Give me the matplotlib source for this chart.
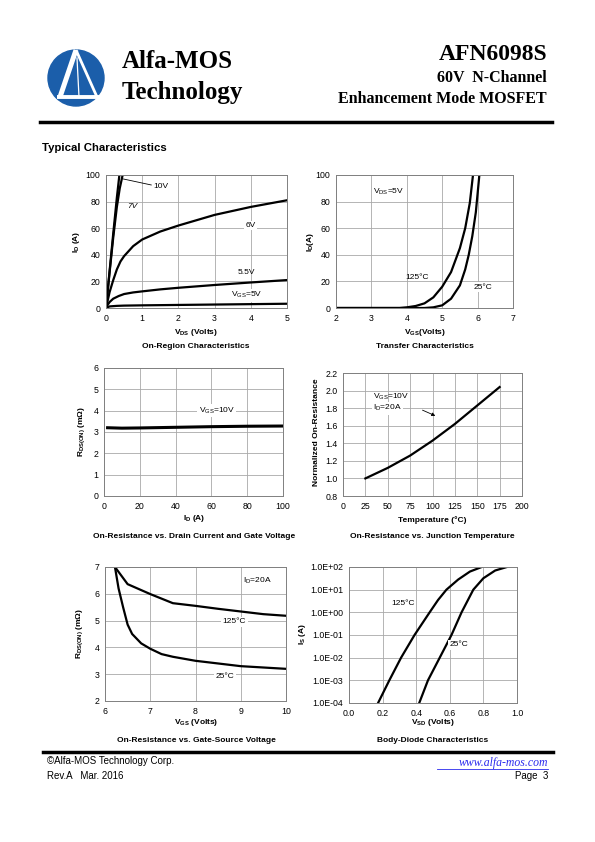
import numpy as np
import matplotlib.pyplot as plt
from matplotlib.patches import Circle
from matplotlib.ticker import FuncFormatter

plt.rcParams['font.family'] = ['Liberation Sans', 'DejaVu Sans']
plt.rcParams['mathtext.fontset'] = 'custom'
plt.rcParams['mathtext.rm'] = 'Liberation Sans'
plt.rcParams['mathtext.it'] = 'Liberation Sans:italic'
plt.rcParams['mathtext.bf'] = 'Liberation Sans:bold'

# ---- data ----
# on-region characteristics (VDS, ID)
vds_10v = [0, 0.1, 0.2, 0.3, 0.37]
id_10v = [0, 28, 56, 83, 100]
vds_7v = [0, 0.1, 0.2, 0.3, 0.38, 0.46]
id_7v = [0, 27, 53, 76, 90, 100]
vds_6v = [0, 0.05, 0.1, 0.2, 0.3, 0.4, 0.5, 0.75, 1, 1.5, 2, 3, 4, 5]
id_6v = [0, 6, 12, 21, 29, 35, 39, 46.5, 51.5, 57.5, 62, 70, 76, 81]
vds_55v = [0, 0.05, 0.1, 0.2, 0.35, 0.5, 0.75, 1, 1.5, 2, 3, 4, 5]
id_55v = [0, 2.5, 4.5, 7, 9, 10.5, 11.7, 12.5, 14, 15.2, 17.3, 19.2, 21]
vds_5v = [0, 0.1, 0.3, 0.5, 1, 2, 3, 4, 5]
id_5v = [0, 1.2, 1.6, 1.8, 2, 2.3, 2.6, 2.9, 3.2]

# transfer characteristics (VGS, ID)
vgs_125 = [2, 3.8, 4.0, 4.25, 4.5, 4.75, 5.0, 5.25, 5.5, 5.65, 5.78, 5.87]
id_125 = [0, 0, 0.5, 1.5, 3.5, 8, 16, 27, 45, 60, 79, 100]
vgs_25 = [2, 4.5, 4.75, 5.0, 5.25, 5.5, 5.65, 5.75, 5.85, 5.95, 6.05]
id_25 = [0, 0, 0.5, 2, 7, 17, 29, 40, 54, 72, 100]

# on-resistance vs drain current
id_r = [2, 10, 20, 40, 60, 80, 100]
r_id = [3.2, 3.18, 3.19, 3.22, 3.25, 3.27, 3.28]

# normalized on-resistance vs temperature
temp = [25, 50, 75, 100, 125, 150, 175]
r_norm = [1.0, 1.12, 1.26, 1.43, 1.62, 1.83, 2.04]

# on-resistance vs gate-source voltage
vgs_r125 = [6.22, 6.5, 7.0, 7.5, 8.0, 8.5, 9.0, 9.5, 10.0]
r_125 = [7.0, 6.36, 5.99, 5.65, 5.55, 5.44, 5.34, 5.24, 5.18]
vgs_r25 = [6.22, 6.3, 6.4, 6.5, 6.6, 6.8, 7.0, 7.25, 7.5, 8.0, 8.5, 9.0, 9.5, 10.0]
r_25 = [7.0, 6.2, 5.5, 4.85, 4.5, 4.15, 3.95, 3.75, 3.65, 3.5, 3.4, 3.3, 3.25, 3.2]

# body diode (VSD, IS)
vsd_125 = [0.173, 0.24, 0.31, 0.39, 0.48, 0.53, 0.58, 0.65, 0.72, 0.79]
is_125 = [1e-4, 1e-3, 1e-2, 1e-1, 1e0, 3.5e0, 1e1, 2.8e1, 6.3e1, 1e2]
vsd_25 = [0.418, 0.47, 0.54, 0.61, 0.67, 0.74, 0.80, 0.87, 0.94]
is_25 = [1e-4, 1e-3, 1e-2, 1e-1, 1e0, 1e1, 3.2e1, 7e1, 1e2]

W, H = 595, 842
fig = plt.figure(figsize=(W / 100, H / 100), dpi=100)

# page layer in pixel coordinates
pg = fig.add_axes([0, 0, 1, 1])
pg.set_xlim(0, W)
pg.set_ylim(H, 0)
pg.axis('off')

# logo
blue = '#1b5eaa'
pg.add_patch(Circle((76, 78), 28, color=blue))
pg.plot([76, 60], [50, 97], color='white', lw=3.6, solid_capstyle='butt')
pg.plot([76, 97], [50, 97], color='white', lw=2.0, solid_capstyle='butt')
pg.plot([77, 79], [58, 97], color='white', lw=0.9)
pg.plot([57, 99], [97, 97], color='white', lw=2.8, solid_capstyle='butt')

pg.text(122, 62, 'Alfa-MOS', family='Liberation Serif', weight='bold', fontsize=18, va='center')
pg.text(122, 92, 'Technology', family='Liberation Serif', weight='bold', fontsize=18, va='center')
pg.text(547, 55, 'AFN6098S', family='Liberation Serif', weight='bold', fontsize=17, va='center', ha='right')
pg.text(547, 78, '60V  N-Channel', family='Liberation Serif', weight='bold', fontsize=11.5, va='center', ha='right')
pg.text(547, 99, 'Enhancement Mode MOSFET', family='Liberation Serif', weight='bold', fontsize=11.5, va='center', ha='right')
pg.plot([40, 552], [122, 122], color='black', lw=2.5)

pg.text(42, 148, 'Typical Characteristics', weight='bold', fontsize=8.2, va='center')

# footer
pg.plot([43, 553], [752, 752], color='black', lw=2.5)
pg.text(47, 761, '\u00a9Alfa-MOS Technology Corp.', fontsize=7, va='center')
pg.text(47, 776, 'Rev.A   Mar. 2016', fontsize=7, va='center')
pg.text(548, 763, 'www.alfa-mos.com', family='Liberation Serif', style='italic', fontsize=8.5,
        color='#2a2aee', va='center', ha='right')
pg.plot([437, 548], [769, 769], color='#2a2aee', lw=0.6)
pg.text(548, 776, 'Page  3', fontsize=7, va='center', ha='right')

gridc = '#a8a8a8'
tickfs = 6.3
labfs = 6.0
ohm = '\u03a9'
deg = '\u00b0'


def make_ax(x0, x1, y0, y1):
    ax = fig.add_axes([x0 / W, 1 - y1 / H, (x1 - x0) / W, (y1 - y0) / H])
    ax.set_facecolor('white')
    for s in ax.spines.values():
        s.set_color('#808080')
        s.set_linewidth(0.7)
    ax.grid(True, color=gridc, lw=0.6)
    ax.set_axisbelow(True)
    ax.tick_params(length=0, labelsize=tickfs, pad=4)
    return ax


def page_label(x, y, s, rot=0, bold=True):
    pg.text(x, y, s, fontsize=labfs, weight='bold' if bold else 'normal',
            rotation=rot, ha='center', va='center')


box = dict(fc='white', ec='none', pad=1)
lw = 1.6

# 1: on-region characteristics
ax1 = make_ax(106, 287, 175, 308)
for xv, yv in [(vds_10v, id_10v), (vds_7v, id_7v), (vds_6v, id_6v), (vds_55v, id_55v), (vds_5v, id_5v)]:
    ax1.plot(xv, yv, color='black', lw=lw)
ax1.set_xlim(0, 5)
ax1.set_ylim(0, 100)
ax1.set_xticks(range(0, 6))
ax1.set_yticks(range(0, 101, 20))
ax1.plot([0.48, 1.25], [97, 92.5], color='black', lw=0.6)
ax1.text(1.3, 91, '10V', fontsize=6, va='center')
ax1.text(0.57, 76, '7V', fontsize=6, va='center', style='italic')
ax1.text(3.85, 62, '6V', fontsize=6, va='center', bbox=box)
ax1.text(3.65, 27, '5.5V', fontsize=6, va='center')
ax1.text(3.45, 9.5, r'V$_\mathregular{GS}$=5V', fontsize=6, va='center', bbox=box)
page_label(196, 333, r'V$_\mathregular{DS}$ (Volts)')
page_label(196, 346, 'On-Region Characteristics')
page_label(76, 242, r'I$_\mathregular{D}$ (A)', rot=90)

# 2: transfer characteristics
ax2 = make_ax(336, 513, 175, 308)
ax2.plot(vgs_125, id_125, color='black', lw=lw)
ax2.plot(vgs_25, id_25, color='black', lw=lw)
ax2.set_xlim(2, 7)
ax2.set_ylim(0, 100)
ax2.set_xticks(range(2, 8))
ax2.set_yticks(range(0, 101, 20))
ax2.text(3.05, 87.5, r'V$_\mathregular{DS}$=5V', fontsize=6, va='center')
ax2.text(3.95, 23, '125' + deg + 'C', fontsize=6, va='center')
ax2.text(5.9, 15.5, '25' + deg + 'C', fontsize=6, va='center', bbox=box)
page_label(425, 333, r'V$_\mathregular{GS}$(Volts)')
page_label(425, 346, 'Transfer Characteristics')
page_label(311, 242, r'I$_\mathregular{D}$(A)', rot=90)

# 3: on-resistance vs drain current
ax3 = make_ax(104, 283, 368, 496)
ax3.plot(id_r, r_id, color='black', lw=2.2)
ax3.set_xlim(0, 100)
ax3.set_ylim(0, 6)
ax3.set_xticks(range(0, 101, 20))
ax3.set_yticks(range(0, 7))
ax3.text(53, 4.0, r'V$_\mathregular{GS}$=10V', fontsize=6, va='center', bbox=box)
page_label(194, 519, r'I$_\mathregular{D}$ (A)')
page_label(194, 536, 'On-Resistance vs. Drain Current and Gate Voltage')
page_label(82, 432, r'R$_\mathregular{DS(ON)}$ (m' + ohm + ')', rot=90)

# 4: normalized on-resistance vs temperature
ax4 = make_ax(343, 522, 373, 496)
ax4.plot(temp, r_norm, color='black', lw=lw)
ax4.set_xlim(0, 200)
ax4.set_ylim(0.8, 2.2)
ax4.set_xticks(range(0, 201, 25))
ax4.set_yticks(np.arange(0.8, 2.21, 0.2))
ax4.yaxis.set_major_formatter(FuncFormatter(lambda v, p: f'{v:.1f}'))
ax4.text(34, 1.93, r'V$_\mathregular{GS}$=10V', fontsize=6, va='center')
ax4.text(34, 1.80, r'I$_\mathregular{D}$=20A', fontsize=6, va='center', bbox=box)
ax4.annotate('', xy=(106, 1.70), xytext=(86, 1.79),
             arrowprops=dict(arrowstyle='-|>', color='black', lw=0.6, mutation_scale=5))
page_label(432, 520, 'Temperature (' + deg + 'C)')
page_label(432, 536, 'On-Resistance vs. Junction Temperature')
page_label(316, 432, 'Normalized On-Resistance', rot=90)

# 5: on-resistance vs gate-source voltage
ax5 = make_ax(105, 286, 567, 701)
ax5.plot(vgs_r125, r_125, color='black', lw=lw)
ax5.plot(vgs_r25, r_25, color='black', lw=lw)
ax5.set_xlim(6, 10)
ax5.set_ylim(2, 7)
ax5.set_xticks(range(6, 11))
ax5.set_yticks(range(2, 8))
ax5.text(9.05, 6.5, r'I$_\mathregular{D}$=20A', fontsize=6, va='center')
ax5.text(8.6, 4.95, '125' + deg + 'C', fontsize=6, va='center', bbox=box)
ax5.text(8.45, 2.92, '25' + deg + 'C', fontsize=6, va='center', bbox=box)
page_label(196, 722, r'V$_\mathregular{GS}$ (Volts)')
page_label(196, 740, 'On-Resistance vs. Gate-Source Voltage')
page_label(80, 634, r'R$_\mathregular{DS(ON)}$ (m' + ohm + ')', rot=90)

# 6: body diode
ax6 = make_ax(349, 517, 567, 703)
ax6.plot(vsd_125, is_125, color='black', lw=lw)
ax6.plot(vsd_25, is_25, color='black', lw=lw)
ax6.set_yscale('log')
ax6.set_xlim(0, 1)
ax6.set_ylim(1e-4, 1e2)
ax6.set_xticks(np.arange(0, 1.01, 0.2))
ax6.xaxis.set_major_formatter(FuncFormatter(lambda v, p: f'{v:.1f}'))
ax6.set_yticks([10.0 ** k for k in range(-4, 3)])
ax6.yaxis.set_major_formatter(FuncFormatter(lambda v, p: f'{v:.1E}'))
ax6.yaxis.set_minor_locator(plt.NullLocator())
ax6.text(0.25, 10 ** 0.38, '125' + deg + 'C', fontsize=6, va='center')
ax6.text(0.6, 10 ** -1.44, '25' + deg + 'C', fontsize=6, va='center', bbox=box)
page_label(433, 722, r'V$_\mathregular{SD}$ (Volts)')
page_label(433, 740, 'Body-Diode Characteristics')
page_label(303, 634, r'I$_\mathregular{S}$ (A)', rot=90)

fig.savefig('out.png', dpi=100)
